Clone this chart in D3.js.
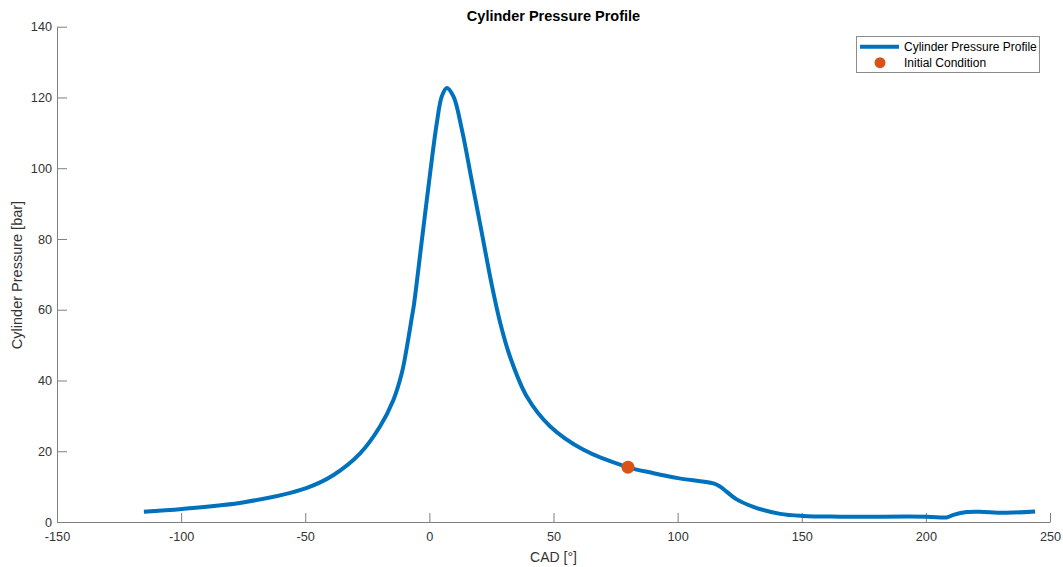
<!DOCTYPE html>
<html>
<head>
<meta charset="utf-8">
<script src="https://cdn.jsdelivr.net/npm/d3@7"></script>
<style>
  body { margin: 0; background: #fff; }
  text { font-family: "Liberation Sans", Arial, sans-serif; }
</style>
</head>
<body>
<div id="container"></div>
<script>

// crank angle [deg] and pressure [bar]
var cad = [-115, -99.6, -74.6, -49.6, -38.6, -27.9, -19.9, -14.5, -11.1, -8.8, -7.0, -6.2,
    -3.0, 0.3, 3.0, 5.0, 7.0, 9.7, 13.1, 17.1, 21.1, 25.2, 28.5, 32.5, 39.3, 48.7, 62.1,
    79.5, 90.3, 100.2, 114.4, 117.1, 123.8, 130.5, 141.3, 150.4, 165.4, 200.4, 208.4,
    211.1, 216.5, 221.8, 231.2, 244];
var pressure = [2.9, 3.7, 5.6, 9.6, 13.3, 19.4, 27.0, 34.5, 42.1, 50.5, 58.1, 61.5,
    79.8, 98.6, 112.8, 120.3, 122.7, 120.3, 110.9, 96.4, 81.8, 66.8, 56.4, 46.7, 35.4, 27.0, 20.4,
    15.6, 13.8, 12.4, 10.9, 10.0, 6.4, 4.3, 2.3, 1.7, 1.5, 1.5, 1.3,
    2.0, 2.8, 2.9, 2.6, 3.0];

var initCad = [80];
var initPressure = [15.5];

var xTicks = [-150, -100, -50, 0, 50, 100, 150, 200, 250];
var yTicks = [0, 20, 40, 60, 80, 100, 120, 140];

var seriesNames = ["Cylinder Pressure Profile", "Initial Condition"];

var W = 1063, H = 567;
var pLeft = 57, pRight = 1050, pTop = 26.7, pBottom = 522;

var svg = d3.select("#container").append("svg")
    .attr("width", W)
    .attr("height", H);

var x = d3.scaleLinear().domain([-150, 250]).range([pLeft, pRight]);
var y = d3.scaleLinear().domain([0, 140]).range([pBottom, pTop]);

var plain = function(d){ return String(d); }; // hyphen minus, not unicode minus

// axes, ticks pointing inward like matlab
var xAxis = svg.append("g")
    .attr("transform", "translate(0," + pBottom + ")")
    .call(d3.axisBottom(x).tickValues(xTicks).tickFormat(plain)
	  .tickSizeInner(-9).tickSizeOuter(0).tickPadding(10));
var yAxis = svg.append("g")
    .attr("transform", "translate(" + pLeft + ",0)")
    .call(d3.axisLeft(y).tickValues(yTicks).tickFormat(plain)
	  .tickSizeInner(-10).tickSizeOuter(0).tickPadding(5));

[xAxis, yAxis].forEach(function(a){
    a.select(".domain").attr("stroke", "#808080").attr("stroke-width", 1);
    a.selectAll(".tick line").attr("stroke", "#808080");
    a.selectAll(".tick text")
	.attr("fill", "#333")
	.style("font-size", "12.7px")
	.style("font-family", "'Liberation Sans', Arial, sans-serif");
});

var pts = cad.map(function(c, i){ return [c, pressure[i]]; });

var line = d3.line()
    .x(function(d){ return x(d[0]); })
    .y(function(d){ return y(d[1]); })
    .curve(d3.curveCatmullRom.alpha(0.5));

svg.append("path")
    .datum(pts)
    .attr("d", line)
    .attr("fill", "none")
    .attr("stroke", "#0072BD")
    .attr("stroke-width", 4)
    .attr("stroke-linejoin", "round");

svg.selectAll("circle.init")
    .data(initCad)
    .enter().append("circle")
    .attr("class", "init")
    .attr("cx", function(d){ return x(d); })
    .attr("cy", function(d, i){ return y(initPressure[i]); })
    .attr("r", 6.5)
    .attr("fill", "#D95319");

// title and labels
svg.append("text")
    .attr("x", (pLeft + pRight) / 2)
    .attr("y", 21)
    .attr("text-anchor", "middle")
    .style("font-size", "14.5px")
    .style("font-weight", "bold")
    .attr("fill", "#000")
    .text("Cylinder Pressure Profile");

svg.append("text")
    .attr("x", (pLeft + pRight) / 2)
    .attr("y", 562)
    .attr("text-anchor", "middle")
    .style("font-size", "14px")
    .attr("fill", "#333")
    .text("CAD [°]");

svg.append("text")
    .attr("transform", "translate(22,275) rotate(-90)")
    .attr("text-anchor", "middle")
    .style("font-size", "14.5px")
    .attr("fill", "#333")
    .text("Cylinder Pressure [bar]");

// legend
var lg = svg.append("g");
lg.append("rect")
    .attr("x", 856.5).attr("y", 36.5)
    .attr("width", 183).attr("height", 36)
    .attr("fill", "#fff")
    .attr("stroke", "#8c8c8c");
lg.append("line")
    .attr("x1", 860).attr("x2", 899)
    .attr("y1", 46.7).attr("y2", 46.7)
    .attr("stroke", "#0072BD").attr("stroke-width", 4);
lg.append("circle")
    .attr("cx", 880).attr("cy", 62.7).attr("r", 5.5)
    .attr("fill", "#D95319");
lg.selectAll("text.lab")
    .data(seriesNames)
    .enter().append("text")
    .attr("class", "lab")
    .attr("x", 904)
    .attr("y", function(d, i){ return 51 + i * 16; })
    .style("font-size", "12px")
    .attr("fill", "#000")
    .text(function(d){ return d; });

</script>
</body>
</html>
